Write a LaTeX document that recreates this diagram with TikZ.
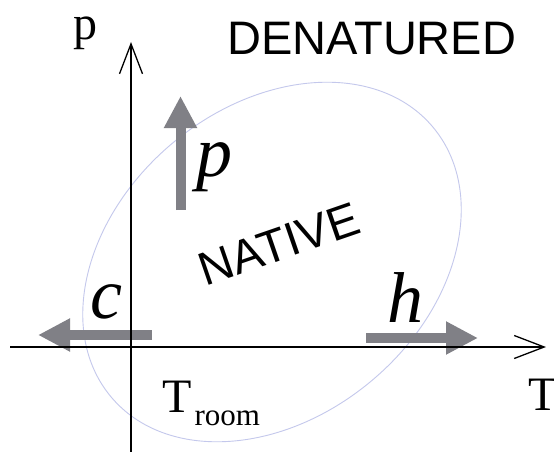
\documentclass[tikz,border=0pt]{standalone}
\usepackage{fontspec}
\setmainfont{Liberation Serif}
\newfontfamily\arialf{Liberation Sans}
\usetikzlibrary{arrows.meta}
\definecolor{ellcol}{RGB}{196,200,236}
\definecolor{arrowgray}{RGB}{128,128,134}
\begin{document}
\begin{tikzpicture}[x=1pt,y=-1pt,
  axisline/.style={line width=1.3pt, -{Straight Barb[length=30pt,width=23pt]}},
  blockarrow/.style={draw=arrowgray, line width=10pt, -{Triangle[length=32pt,width=31pt]}},
  bigital/.style={inner sep=0pt, anchor=base, font=\fontsize{72}{72}\selectfont\itshape},
  axlabel/.style={inner sep=0pt, font=\fontsize{48}{48}\selectfont},
  sanslabel/.style={inner sep=0pt, font=\arialf\fontsize{47}{47}\selectfont}]
\fill[white] (0,0) rectangle (554,452);
\useasboundingbox (0,0) rectangle (554,452);
% ellipse (NATIVE region)
\coordinate (ec) at (272,262);
\draw[ellcol, line width=0.9pt, rotate around={40:(ec)}] (ec) ellipse [x radius=210, y radius=155];
% gray block arrows
\coordinate (pstart) at (180.5,210);
\coordinate (pend) at (180.5,96);
\coordinate (cstart) at (152,335);
\coordinate (cend) at (38,335);
\coordinate (hstart) at (366,338);
\coordinate (hend) at (478,338);
\draw[blockarrow] (pstart) -- (pend);
\draw[blockarrow] (cstart) -- (cend);
\draw[blockarrow] (hstart) -- (hend);
% axes
\coordinate (vbot) at (131,452);
\coordinate (vtop) at (131,42);
\coordinate (hl) at (10,347);
\coordinate (hr) at (546,347);
\draw[axisline] (vbot) -- (vtop);
\draw[axisline] (hl) -- (hr);
% labels
\node[axlabel, anchor=base] (plab) at (85,40) {p};
\node[axlabel, anchor=base west] (tlab) at (528,410) {T};
\node[axlabel, anchor=base west] (troom) at (162,412) {T\kern3pt\raisebox{-13pt}{\fontsize{31}{31}\selectfont room}};
\node[sanslabel, anchor=base west] (den) at (227,55) {DENATURED};
\node[sanslabel, rotate=19] (nat) at (279,244) {NATIVE};
\node[bigital] (pit) at (214,176) {p};
\node[bigital] (cit) at (106,318) {c};
\node[bigital] (hit) at (405,322) {h};
\end{tikzpicture}
\end{document}
